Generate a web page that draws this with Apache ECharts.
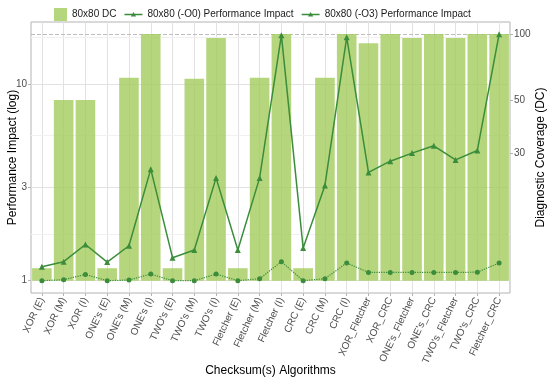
<!DOCTYPE html>
<html><head><meta charset="utf-8">
<script src="https://cdn.jsdelivr.net/npm/echarts@6/dist/echarts.min.js"></script>
<style>html,body{margin:0;padding:0;background:#fff}#c{width:550px;height:380px}</style>
</head><body><div id="c"></div>
<script>
const categories = ["XOR (E)","XOR (M)","XOR (I)","ONE's (E)","ONE's (M)","ONE's (I)","TWO's (E)","TWO's (M)","TWO's (I)","Fletcher (E)","Fletcher (M)","Fletcher (I)","CRC (E)","CRC (M)","CRC (I)","XOR_Fletcher","XOR_CRC","ONE's_Fletcher","ONE's_CRC","TWO's_Fletcher","TWO's_CRC","Fletcher_CRC"];
const dcValues = [13,50,50,13,62.8,100,13,62,95.7,13,62.8,100,13,62.8,100,90.4,100,95.7,100,95.7,100,100];
const perfO0 = [1.178,1.249,1.528,1.244,1.505,3.69,1.309,1.432,3.33,1.432,3.33,17.7,1.465,3.05,17.27,3.55,4.05,4.45,4.85,4.11,4.59,17.9];
const perfO3 = [1.0,1.012,1.076,1.0,1.008,1.081,1.0,1.0,1.081,1.0,1.024,1.249,1.0,1.024,1.23,1.102,1.102,1.102,1.102,1.102,1.105,1.23];
const leftTicks = [1,3,10];
const leftMinor = [1.732,5.477,17.32];
const rightTicks = [30,50,100];
const dcRef = 100;

// secondary (DC) axis transform onto the primary log scale
const A = 0.1929, B = -1.35;
const toLeft = d => A * d + B;
const fromLeft = v => (v - B) / A;
const LMIN = 0.866, LMAX = 20.64;

const FONT = 'Liberation Sans, Arial, sans-serif';
const GRID = '#e2e2e2', BORDER = '#b3b3b3', TXT = '#4d4d4d';
const LINE = '#3b8d3b';

const lineIcon = 'path://M0,0L0.01,0L0.01,0.01Z M18,12L18.01,12L18.01,12.01Z M0,5.35L18,5.35L18,6.65L0,6.65Z M9,3.4L11.6,8L6.4,8Z';
const rectIcon = 'path://M0,0L0.01,0L0.01,0.01Z M5,0L18,0L18,13L5,13Z';

const minorLines = leftMinor.map(v => ({yAxis: v, lineStyle: {type: 'solid', color: '#f1f1f1', width: 1}}));

const chart = echarts.init(document.getElementById('c'), null, {renderer: 'canvas'});
chart.setOption({
  animation: false,
  textStyle: {fontFamily: FONT},
  legend: {
    top: 3, left: 44, itemGap: 8, itemWidth: 18, itemHeight: 13,
    textStyle: {fontSize: 10, color: '#1a1a1a', fontFamily: FONT},
    data: [
      {name: '80x80 DC', icon: rectIcon},
      {name: '80x80 (-O0) Performance Impact', icon: lineIcon},
      {name: '80x80 (-O3) Performance Impact', icon: lineIcon}
    ]
  },
  grid: {left: 31, right: 40, top: 22, bottom: 87, outerBoundsMode: 'none', containLabel: false,
         show: true, borderColor: BORDER, borderWidth: 1, backgroundColor: 'transparent'},
  xAxis: {
    type: 'category', data: categories, boundaryGap: true,
    name: 'Checksum(s) Algorithms', nameLocation: 'middle', nameGap: 72, nameMoveOverlap: false,
    nameTextStyle: {fontSize: 12, color: '#000', fontFamily: FONT},
    axisLine: {show: false},
    axisTick: {show: true, alignWithLabel: true, length: 3, lineStyle: {color: BORDER}},
    axisLabel: {interval: 0, rotate: 65, fontSize: 10, color: TXT, margin: 5, fontFamily: FONT},
    splitLine: {show: true, alignWithLabel: true, lineStyle: {color: GRID, width: 1}}
  },
  yAxis: [
    {
      type: 'log', logBase: 10, min: LMIN, max: LMAX, position: 'left',
      name: 'Performance Impact (log)', nameLocation: 'middle', nameGap: 12, nameRotate: 90, nameMoveOverlap: false,
      nameTextStyle: {fontSize: 12, color: '#000', fontFamily: FONT},
      axisLine: {show: false},
      axisTick: {show: true, length: 3, lineStyle: {color: BORDER}, customValues: leftTicks},
      axisLabel: {fontSize: 10, color: TXT, margin: 4, customValues: leftTicks, formatter: v => String(Math.round(v))},
      splitLine: {show: true, lineStyle: {color: GRID, width: 1}}
    },
    {
      type: 'log', logBase: 10, min: LMIN, max: LMAX, position: 'right',
      name: 'Diagnostic Coverage (DC)', nameLocation: 'middle', nameGap: 25, nameRotate: 90, nameMoveOverlap: false,
      nameTextStyle: {fontSize: 12, color: '#000', fontFamily: FONT},
      axisLine: {show: false},
      axisTick: {show: true, length: 3, lineStyle: {color: BORDER}, customValues: rightTicks.map(toLeft)},
      axisLabel: {fontSize: 10, color: TXT, margin: 4, customValues: rightTicks.map(toLeft), formatter: v => String(Math.round(fromLeft(v)))},
      splitLine: {show: false}
    }
  ],
  series: [
    {
      name: '80x80 DC', type: 'bar', yAxisIndex: 0, barCategoryGap: '10%',
      data: dcValues.map(toLeft),
      itemStyle: {color: 'rgba(163,204,91,0.8)'},
      markLine: {
        silent: true, symbol: 'none', label: {show: false}, z: 1,
        data: minorLines.concat([{yAxis: toLeft(dcRef), lineStyle: {type: 'dashed', color: '#bdbdbd', width: 1}}])
      },
      z: 2
    },
    {
      name: '80x80 (-O0) Performance Impact', type: 'line', yAxisIndex: 0,
      data: perfO0, symbol: 'triangle', symbolSize: 6,
      lineStyle: {color: LINE, width: 1.5}, itemStyle: {color: LINE}, z: 4
    },
    {
      name: '80x80 (-O3) Performance Impact', type: 'line', yAxisIndex: 0,
      data: perfO3, symbol: 'circle', symbolSize: 5,
      lineStyle: {color: LINE, width: 1.2, type: 'dotted'}, itemStyle: {color: LINE}, z: 4
    }
  ]
});
</script></body></html>
